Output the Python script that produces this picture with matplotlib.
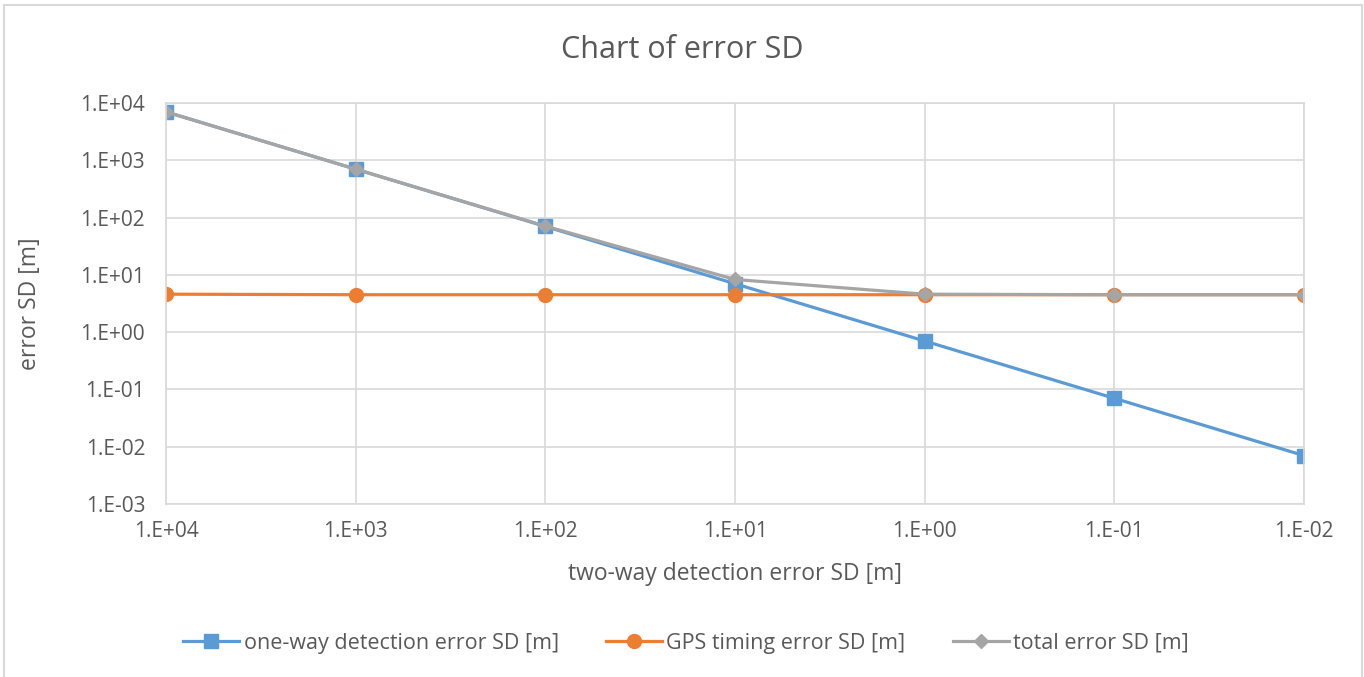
import math
import matplotlib.pyplot as plt
from matplotlib.patches import Rectangle
from matplotlib.ticker import FuncFormatter, NullLocator

two_way = [1e4, 1e3, 1e2, 1e1, 1e0, 1e-1, 1e-2]
one_way = [7000, 700, 70, 7, 0.7, 0.07, 0.007]
gps = [4.6, 4.5, 4.5, 4.5, 4.5, 4.5, 4.5]
total = [7000, 700, 71, 8.3, 4.6, 4.5, 4.5]
y_ticks = [1e-3, 1e-2, 1e-1, 1e0, 1e1, 1e2, 1e3, 1e4]

plt.rcParams['font.family'] = ['Open Sans', 'DejaVu Sans']
txt = '#595959'

fig = plt.figure(figsize=(13.64, 6.77), dpi=100)
ax = fig.add_axes([0.1217, 0.2555, 0.8343, 0.5924])

# outer chart border
fig.patches.append(Rectangle((0.003, -0.02), 0.9955, 1.0126, transform=fig.transFigure,
                             fill=False, edgecolor='#D9D9D9', linewidth=1.5))

ax.plot(two_way, one_way, '-s', color='#5B9BD5', lw=2.3, ms=10, label='one-way detection error SD [m]')
ax.plot(two_way, gps, '-o', color='#ED7D31', lw=2.3, ms=10, label='GPS timing error SD [m]')
ax.plot(two_way, total, '-D', color='#A5A5A5', lw=2.3, ms=7, label='total error SD [m]')

ax.set_xscale('log')
ax.set_yscale('log')
ax.set_xlim(1e4, 1e-2)
ax.set_ylim(1e-3, 1e4)
ax.set_xticks(two_way)
ax.set_yticks(y_ticks)

fmt = FuncFormatter(lambda v, p: '1.E%+03d' % round(math.log10(v)))
for axis in (ax.xaxis, ax.yaxis):
    axis.set_minor_locator(NullLocator())
    axis.set_major_formatter(fmt)

ax.grid(True, color='#D9D9D9', lw=1.2)
ax.set_axisbelow(True)
for s in ax.spines.values():
    s.set_color('#D9D9D9')
    s.set_linewidth(1.2)
ax.tick_params(length=0, labelsize=15, labelcolor=txt)
ax.tick_params(axis='y', pad=15)
ax.tick_params(axis='x', pad=12)

fig.text(0.5, 1 - 50 / 677, 'Chart of error SD', fontsize=22, color=txt, ha='center', va='center')
ax.set_xlabel('two-way detection error SD [m]', fontsize=16.5, color=txt)
ax.xaxis.set_label_coords(0.5, -(562 - 504) / 401)
ax.set_ylabel('error SD [m]', fontsize=16.5, color=txt, va='center')
ax.yaxis.set_label_coords(-(166 - 30) / 1138, 0.5)

fig.legend(loc='center', bbox_to_anchor=(0.503, 1 - 643 / 677), ncol=3, frameon=False,
           fontsize=15.5, labelcolor=txt, columnspacing=2.2, handlelength=2.6, handletextpad=0.2)

fig.savefig('out.png', dpi=100)
